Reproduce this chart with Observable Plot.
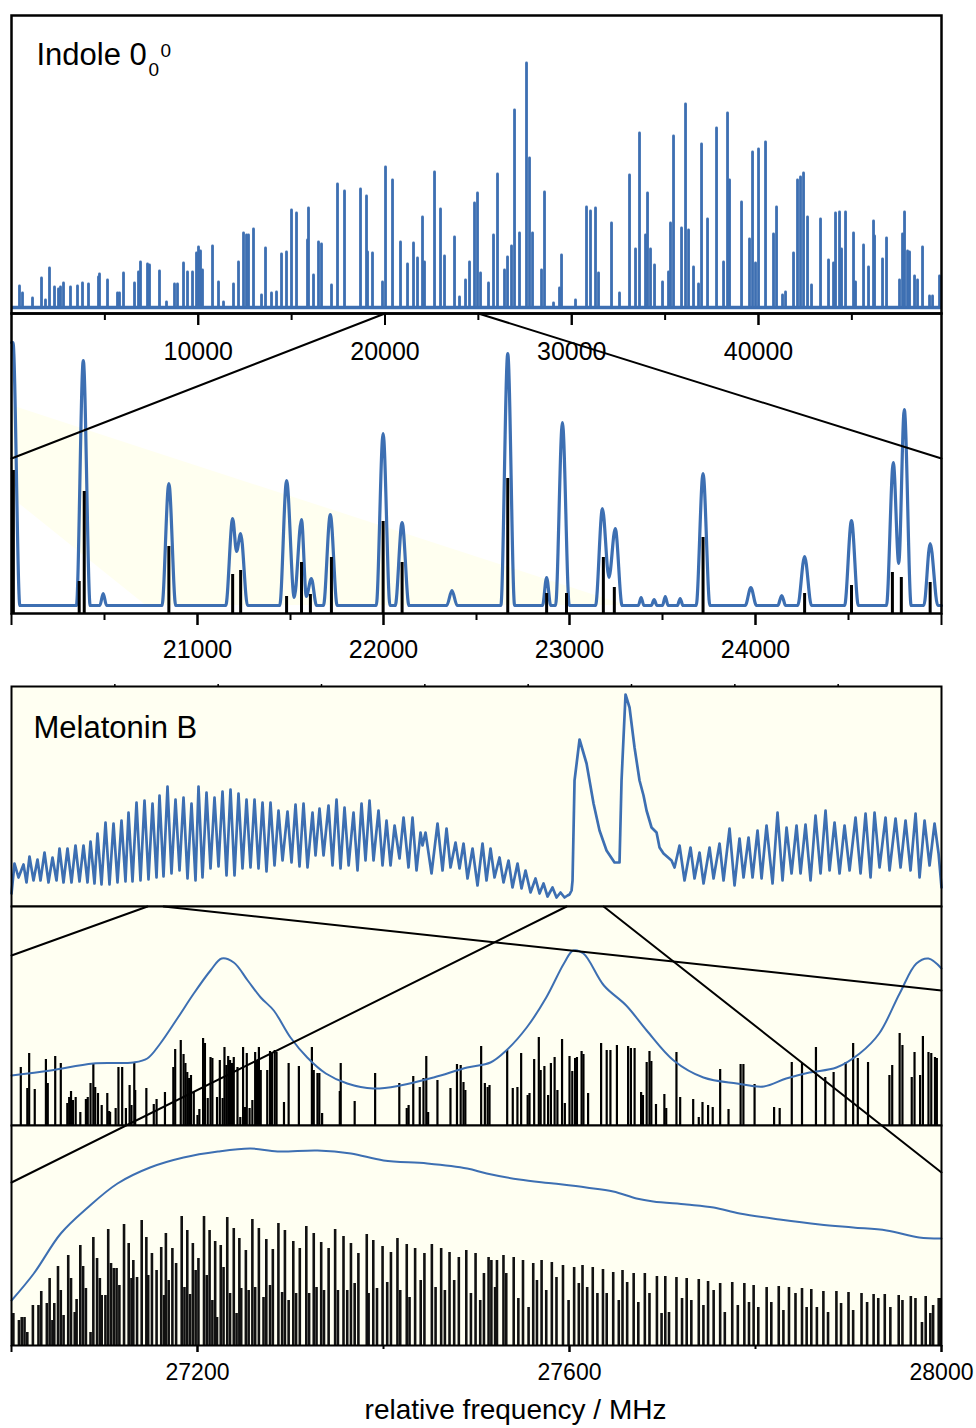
<!DOCTYPE html>
<html><head><meta charset="utf-8">
<script src="https://cdn.jsdelivr.net/npm/d3@7"></script>
<script src="https://cdn.jsdelivr.net/npm/@observablehq/plot@0.6"></script>
<style>
body{margin:0;background:#fff;}
#chart{position:relative;width:976px;height:1428px;}
#chart svg{position:absolute;left:0;}
</style></head><body><div id="chart"></div>
<script>
// ---------------- DATA ----------------
// Panel 1: Indole 0_0^0 overview (MHz, intensity)
const indoleBaseline = 6;
const indolePeaks = [[428,27],[589,20],[1125,15],[1607,35],[1820,13],[2035,45],[2303,26],[2517,24],[2624,26],[2785,30],[3159,26],[3534,27],[3802,30],[4123,29],[4659,36],[4712,39],[5141,33],[5676,20],[5783,20],[5998,40],[6587,30],[6801,41],[6908,51],[7283,49],[7390,48],[7925,42],[8300,11],[8729,29],[8889,29],[9211,50],[9425,41],[9693,41],[9907,60],[10014,66],[10121,62],[10228,43],[10764,67],[11085,31],[11353,11],[11888,29],[12156,51],[12424,80],[12584,78],[12691,78],[12959,84],[13388,18],[13602,65],[13923,20],[14191,21],[14459,59],[14726,61],[14994,103],[15262,100],[15851,73],[15904,105],[16172,38],[16440,71],[16600,69],[17136,28],[17457,129],[17832,122],[18689,124],[19010,117],[19064,61],[19331,60],[19867,31],[20028,146],[20403,133],[20831,71],[21206,49],[21527,70],[21741,55],[22009,96],[22116,51],[22652,141],[22973,104],[23187,57],[23723,76],[23990,16],[24312,33],[24526,51],[24794,110],[24954,120],[25115,40],[25543,30],[25811,78],[26025,139],[26400,43],[26561,56],[26775,67],[26936,203],[27203,80],[27578,250],[27739,155],[27900,80],[28382,43],[28542,121],[29024,10],[29345,25],[29453,58],[30202,13],[30791,106],[31005,102],[31273,105],[31434,40],[32130,90],[32558,20],[33094,138],[33415,64],[33629,180],[33951,78],[34058,120],[34218,64],[34433,48],[34861,31],[35182,41],[35289,90],[35450,177],[35879,85],[36093,209],[36254,83],[36521,46],[36789,29],[36950,169],[37271,94],[37753,185],[38128,51],[38342,200],[38449,133],[39092,111],[39520,74],[39681,161],[39841,50],[40002,164],[40377,171],[40805,79],[40966,106],[41287,18],[41448,21],[41876,60],[42090,133],[42251,136],[42412,140],[42626,96],[42840,28],[43322,94],[43750,53],[44018,50],[44125,100],[44339,101],[44447,64],[44661,101],[45089,80],[45196,31],[45625,68],[45892,46],[46160,92],[46214,77],[46642,54],[46856,75],[47552,33],[47713,79],[47820,101],[47981,62],[48088,61],[48356,37],[48516,33],[48784,66],[49159,17],[49320,17],[49694,37]];

// Panel 2: Indole zoom 20000-25000 MHz
const indoleZoomTrace = [[20000,271],[20008,271],[20045,8],[20349,8],[20386,253],[20423,8],[20475,8],[20493,20],[20511,8],[20809,8],[20846,130],[20883,8],[21152,8],[21189,95],[21210,62],[21232,80],[21269,8],[21442,8],[21479,133],[21520,16],[21559,94],[21585,17],[21612,35],[21640,8],[21677,8],[21714,99],[21751,8],[21961,8],[21998,180],[22035,8],[22063,8],[22100,91],[22137,8],[22340,8],[22368,23],[22396,8],[22631,8],[22668,260],[22705,8],[22855,8],[22877,36],[22899,8],[22925,8],[22962,191],[22999,8],[23140,8],[23177,105],[23212,36],[23246,85],[23283,8],[23370,8],[23385,16],[23400,8],[23440,8],[23455,14],[23470,8],[23500,8],[23515,17],[23530,8],[23580,8],[23595,15],[23610,8],[23681,8],[23718,140],[23755,8],[23945,8],[23975,26],[24005,8],[24120,8],[24141,18],[24162,8],[24227,8],[24264,57],[24301,8],[24479,8],[24516,93],[24553,8],[24704,8],[24741,151],[24770,50],[24800,204],[24837,8],[24905,8],[24939,70],[24980,8],[25000,8]];
const indoleZoomSticks = [[20010,143],[20364,32],[20391,122],[20846,67],[21189,39],[21232,43],[21479,17],[21559,51],[21607,19],[21720,56],[21998,92],[22100,51],[22668,135],[22877,20],[22984,20],[23182,56],[23241,26],[23718,76],[24264,20],[24516,28],[24736,41],[24784,36],[24939,31]];
const indoleBandX = [20000, 20723, 23305];
const indoleBandLow = [116, 8, 8];
const indoleBandHigh = [208, 164, 8];
const indoleZoomRange = [20000, 25000];
const indoleZoomEdgeHeights = [155, 155];

// Panel 3: Melatonin B overview
const melatoninTrace = [[0,13],[145,43],[339,29],[581,42],[726,24],[871,50],[1065,26],[1258,47],[1403,26],[1597,54],[1790,24],[1984,49],[2178,26],[2323,58],[2516,24],[2710,58],[2903,24],[3097,61],[3291,25],[3484,61],[3678,24],[3823,65],[4016,23],[4162,73],[4355,22],[4549,84],[4742,22],[4936,83],[5129,24],[5323,86],[5516,25],[5662,94],[5855,25],[6049,104],[6242,26],[6436,106],[6629,27],[6823,103],[7017,29],[7162,111],[7355,30],[7549,120],[7742,33],[7936,107],[8130,36],[8323,109],[8517,28],[8710,103],[8904,26],[9049,120],[9242,29],[9436,114],[9630,38],[9823,109],[10017,40],[10210,115],[10404,31],[10597,117],[10791,31],[10984,113],[11178,38],[11372,107],[11565,39],[11759,107],[11952,38],[12146,104],[12339,35],[12533,104],[12727,41],[12920,96],[13114,46],[13356,95],[13549,44],[13743,102],[13936,40],[14130,103],[14323,39],[14565,94],[14711,51],[14904,98],[15098,51],[15340,101],[15533,41],[15727,107],[15920,38],[16114,99],[16313,41],[16549,94],[16743,36],[16937,103],[17130,46],[17324,106],[17517,46],[17759,96],[17953,41],[18146,86],[18340,41],[18537,81],[18775,48],[18969,89],[19211,39],[19404,89],[19598,36],[19792,74],[19888,61],[20033,74],[20324,33],[20614,83],[20856,36],[21050,78],[21243,39],[21485,64],[21679,38],[21872,63],[22066,28],[22308,58],[22549,21],[22791,63],[22985,26],[23179,58],[23372,29],[23614,49],[23808,24],[24050,46],[24243,19],[24485,43],[24679,18],[24872,36],[25114,14],[25356,28],[25550,13],[25743,23],[25937,10],[26179,19],[26373,9],[26566,14],[26760,9],[26905,11],[27001,12],[27100,16],[27147,26],[27244,126],[27486,167],[27825,143],[28163,103],[28453,76],[28792,56],[29179,44],[29421,44],[29518,126],[29711,212],[29905,199],[30147,159],[30389,126],[30582,111],[30728,96],[30970,79],[31212,74],[31357,59],[31550,53],[31937,46],[32083,39],[32325,61],[32566,26],[32856,59],[33050,28],[33292,54],[33486,23],[33776,59],[33970,28],[34260,63],[34454,26],[34744,78],[34986,21],[35228,68],[35421,29],[35663,69],[35857,29],[36099,76],[36293,28],[36534,81],[36825,23],[37066,94],[37308,26],[37502,79],[37744,33],[37986,81],[38179,33],[38421,82],[38663,26],[38905,91],[39147,33],[39389,96],[39583,36],[39825,84],[40067,33],[40309,81],[40551,36],[40841,89],[41083,33],[41325,93],[41567,29],[41760,94],[42002,39],[42293,89],[42486,36],[42777,88],[43019,39],[43260,86],[43502,36],[43745,93],[43938,29],[44180,86],[44422,41],[44664,83],[44858,53],[45000,19]];

// Panel 4: Melatonin zoom 8400-9400 MHz
const melatoninZoom1Curve = [[8400,50],[8442,55],[8488,62],[8531,63],[8546,67],[8560,82],[8579,108],[8596,132],[8614,155],[8626,167],[8639,163],[8654,145],[8668,128],[8682,115],[8700,88],[8718,68],[8738,52],[8761,42],[8789,37],[8818,40],[8854,48],[8890,58],[8915,63],[8932,75],[8954,98],[8975,128],[8994,162],[9004,175],[9015,172],[9037,140],[9061,120],[9083,95],[9112,65],[9144,48],[9180,42],[9209,39],[9233,47],[9258,53],[9287,58],[9312,72],[9333,92],[9355,132],[9373,162],[9386,167],[9400,157]];
const melatoninZoom1Sticks = [[8410,58],[8417,37],[8419,72],[8425,36],[8437,66],[8439,42],[8447,69],[8453,62],[8460,22],[8462,28],[8464,34],[8466,25],[8469,28],[8474,13],[8480,26],[8482,28],[8485,42],[8488,62],[8490,38],[8493,32],[8497,20],[8503,32],[8505,14],[8506,13],[8512,17],[8515,58],[8519,58],[8523,17],[8527,40],[8529,20],[8532,63],[8533,35],[8545,37],[8553,21],[8556,26],[8565,33],[8574,58],[8576,76],[8582,85],[8585,71],[8587,62],[8589,53],[8591,47],[8593,50],[8596,33],[8600,10],[8602,16],[8606,87],[8608,82],[8611,27],[8614,68],[8616,67],[8621,28],[8624,65],[8627,27],[8629,78],[8631,60],[8633,69],[8635,65],[8637,62],[8639,68],[8643,58],[8646,8],[8649,78],[8651,18],[8653,72],[8656,17],[8659,25],[8662,73],[8664,65],[8666,78],[8668,55],[8675,55],[8678,74],[8680,72],[8683,75],[8685,73],[8693,23],[8698,62],[8709,59],[8723,78],[8725,55],[8729,52],[8731,52],[8734,12],[8753,34],[8754,62],[8769,24],[8791,52],[8817,42],[8825,17],[8827,20],[8832,49],[8839,38],[8843,47],[8846,69],[8848,13],[8858,45],[8872,37],[8879,61],[8883,60],[8886,43],[8888,35],[8905,79],[8909,42],[8912,38],[8914,40],[8933,75],[8939,37],[8944,38],[8948,72],[8955,30],[8957,32],[8962,66],[8967,88],[8969,55],[8973,59],[8977,30],[8980,62],[8984,68],[8987,35],[8992,86],[8995,22],[9000,69],[9003,54],[9006,67],[9008,68],[9013,74],[9015,71],[9020,32],[9034,82],[9040,75],[9044,75],[9051,80],[9063,79],[9066,77],[9070,77],[9077,33],[9079,30],[9083,63],[9086,74],[9088,64],[9093,21],[9102,31],[9104,17],[9115,73],[9119,28],[9133,26],[9139,8],[9143,23],[9149,20],[9154,18],[9162,56],[9171,16],[9184,61],[9187,61],[9199,41],[9220,18],[9226,17],[9239,63],[9250,62],[9265,78],[9275,48],[9284,53],[9297,63],[9305,82],[9310,67],[9321,63],[9344,50],[9347,60],[9355,92],[9358,80],[9368,48],[9371,73],[9377,50],[9380,89],[9386,73],[9389,72],[9393,68],[9395,67]];
const melatoninZoom1Range = [6580, 7360];      // as marked on the overview axis
const melatoninZoom1EdgeHeights = [170, 135];

// Panel 5: Melatonin zoom 27000-28000 MHz
const melatoninZoom2Curve = [[27000,45],[27024,72],[27053,112],[27082,138],[27114,162],[27149,178],[27185,188],[27222,194],[27257,197],[27286,194],[27329,195],[27365,192],[27400,185],[27447,182],[27490,177],[27511,172],[27546,166],[27583,162],[27618,158],[27647,154],[27672,147],[27690,144],[27726,141],[27755,138],[27783,132],[27826,126],[27869,121],[27905,118],[27941,115],[27976,108],[28000,107]];
const melatoninZoom2Sticks = [[27002,32],[27008,25],[27011,28],[27014,28],[27017,13],[27023,40],[27029,40],[27032,54],[27038,42],[27041,67],[27044,25],[27046,42],[27050,79],[27053,55],[27056,30],[27061,90],[27064,67],[27068,33],[27070,46],[27074,100],[27077,79],[27080,57],[27085,13],[27088,108],[27092,87],[27095,67],[27097,50],[27101,50],[27104,116],[27107,82],[27110,77],[27113,77],[27116,60],[27121,121],[27126,102],[27129,67],[27131,85],[27135,68],[27140,125],[27145,108],[27147,70],[27151,92],[27156,75],[27161,98],[27164,50],[27166,112],[27169,65],[27173,97],[27177,82],[27183,129],[27186,58],[27189,115],[27192,51],[27195,102],[27198,75],[27201,87],[27207,129],[27210,70],[27213,115],[27216,45],[27219,104],[27221,28],[27225,100],[27228,78],[27232,128],[27235,52],[27239,117],[27242,32],[27245,107],[27247,57],[27252,95],[27255,55],[27259,126],[27262,58],[27266,117],[27271,48],[27274,106],[27278,60],[27281,96],[27287,122],[27291,53],[27294,115],[27298,45],[27303,104],[27306,52],[27310,97],[27317,119],[27320,52],[27325,112],[27328,58],[27333,103],[27336,55],[27341,97],[27348,116],[27351,55],[27357,109],[27361,55],[27365,102],[27369,62],[27373,92],[27382,111],[27384,52],[27389,105],[27393,57],[27399,99],[27404,63],[27408,93],[27415,107],[27418,55],[27425,101],[27428,48],[27434,97],[27440,65],[27444,92],[27452,101],[27456,58],[27462,97],[27466,55],[27471,93],[27476,65],[27481,88],[27489,95],[27494,52],[27499,92],[27504,45],[27508,72],[27513,88],[27516,85],[27520,58],[27522,85],[27529,90],[27532,72],[27540,88],[27545,47],[27550,85],[27556,38],[27561,82],[27565,65],[27570,85],[27575,55],[27581,83],[27586,68],[27593,80],[27599,45],[27605,78],[27610,62],[27614,80],[27619,58],[27625,78],[27630,52],[27636,76],[27640,52],[27647,73],[27653,45],[27657,75],[27662,63],[27669,72],[27674,43],[27681,72],[27686,52],[27694,69],[27699,32],[27703,69],[27707,33],[27715,68],[27721,47],[27726,67],[27731,45],[27739,66],[27744,40],[27749,64],[27755,55],[27762,62],[27767,33],[27775,63],[27781,40],[27788,62],[27793,43],[27798,60],[27803,38],[27812,58],[27817,43],[27825,59],[27830,35],[27836,58],[27843,52],[27850,57],[27855,38],[27860,56],[27866,38],[27873,54],[27878,33],[27887,54],[27892,42],[27900,53],[27905,35],[27914,52],[27920,43],[27927,51],[27932,47],[27939,51],[27945,38],[27954,50],[27958,45],[27967,49],[27972,47],[27979,23],[27983,49],[27988,32],[27991,40],[27997,47],[27999,47]];
const melatoninZoom2Range = [26860, 28650];    // as marked on the overview axis
const melatoninZoom2EdgeHeights = [163, 173];

// Axis ticks
const ticks1 = {major: [10000, 20000, 30000, 40000], labels: [10000, 20000, 30000, 40000], minor: [5000, 15000, 25000, 35000, 45000]};
const ticks2 = {major: [20000, 21000, 22000, 23000, 24000, 25000], labels: [21000, 22000, 23000, 24000], minor: [20500, 21500, 22500, 23500, 24500]};
const ticks3 = {major: [10000, 20000, 30000, 40000], labels: [10000, 20000, 30000, 40000], minor: [5000, 15000, 25000, 35000], top: [5000, 10000, 15000, 20000, 25000, 30000, 35000, 40000]};
const ticks4 = {major: [8600, 8800, 9000, 9200], labels: [8600, 8800, 9000, 9200], minor: [8500, 8700, 8900, 9100, 9300]};
const ticks5 = {major: [27000, 27200, 27600, 28000], labels: [27200, 27600, 28000], minor: [27400, 27800]};

// ---------------- LAYOUT / STYLE ----------------
const BLUE = "#3d6fb2", BG = "#fffff2", BAND = "#fffff0";
const W = 976, ML = 11, MR = 35;
const FONT = "Liberation Sans, Arial, Helvetica, sans-serif";
const P1 = {top: 0, mt: 15, h: 298, mb: 52, domain: [0, 49800], y: [0, 298]};
const P2 = {top: 313, mt: 0, h: 300, mb: 60, domain: [20000, 25000], y: [0, 300]};
const P3 = {top: 676, mt: 10, h: 220, mb: 50, domain: [0, 45000], y: [0, 220]};
const P4 = {top: 906, mt: 0, h: 219, mb: 50, domain: [8400, 9400], y: [0, 219]};
const P5 = {top: 1125, mt: 0, h: 220, mb: 103, domain: [27000, 28000], y: [0, 220]};

const xs = p => d3.scaleLinear(p.domain, [ML, W - MR]);
const valAt = (p, py) => p.y[0] + (1 - (py - p.top - p.mt) / p.h) * (p.y[1] - p.y[0]);
const fmt = d3.format("d");

function connectors(src, dst, range, edge) {
  const sx = xs(src), dx = xs(dst);
  const sy = valAt(dst, src.top + src.mt + src.h);
  return [
    {k: 0, x: dx.invert(sx(range[0])), y: sy}, {k: 0, x: dst.domain[0], y: edge[0]},
    {k: 1, x: dx.invert(sx(range[1])), y: sy}, {k: 1, x: dst.domain[1], y: edge[1]}
  ];
}

function axes(t, o) {
  const marks = [
    Plot.axisX({ticks: t.minor, tickSize: o.minor, tickFormat: () => "", label: null, strokeWidth: 2}),
    Plot.axisX({ticks: t.major, tickSize: o.major, tickFormat: () => "", label: null, strokeWidth: 2}),
    Plot.axisX({ticks: t.labels, tickSize: o.major, tickPadding: o.pad, tickFormat: fmt, label: null, strokeWidth: 2, fontSize: o.font})
  ];
  if (t.top) marks.push(Plot.axisX({anchor: "top", ticks: t.top, tickSize: 3, tickFormat: () => "", label: null, strokeWidth: 1.5}));
  return marks;
}

const chart = document.getElementById("chart");
function makePlot(p, marks) {
  const svg = Plot.plot({
    width: W, height: p.mt + p.h + p.mb,
    marginLeft: ML, marginRight: MR, marginTop: p.mt, marginBottom: p.mb,
    x: {domain: p.domain, label: null},
    y: {domain: p.y, axis: null, label: null},
    style: {background: "transparent", overflow: "visible", fontFamily: FONT, color: "black"},
    marks
  });
  svg.style.top = p.top + "px";
  chart.appendChild(svg);
}

const X = d => d[0], Y = d => d[1];

// Panel 1
makePlot(P1, [
  Plot.ruleY([indoleBaseline], {stroke: BLUE, strokeWidth: 3.5}),
  Plot.ruleX(indolePeaks, {x: X, y1: () => indoleBaseline, y2: Y, stroke: BLUE, strokeWidth: 2.8, strokeLinecap: "round"}),
  Plot.frame({stroke: "black", strokeWidth: 2.5}),
  ...axes(ticks1, {minor: 7, major: 12, pad: 17, font: 25}),
  Plot.text(["Indole 0"], {frameAnchor: "top-left", textAnchor: "start", lineAnchor: "top", dx: 25, dy: 27, fontSize: 31, fill: "black"}),
  Plot.text(["0"], {frameAnchor: "top-left", textAnchor: "start", lineAnchor: "top", dx: 137, dy: 47, fontSize: 19, fill: "black"}),
  Plot.text(["0"], {frameAnchor: "top-left", textAnchor: "start", lineAnchor: "top", dx: 149, dy: 28, fontSize: 19, fill: "black"})
]);

// Panel 2
makePlot(P2, [
  Plot.areaY(indoleBandX.map((x, i) => ({x, y1: indoleBandLow[i], y2: indoleBandHigh[i]})), {x: "x", y1: "y1", y2: "y2", fill: BAND}),
  Plot.line(indoleZoomTrace, {x: X, y: Y, stroke: BLUE, strokeWidth: 3.2, curve: "monotone-x"}),
  Plot.ruleX(indoleZoomSticks, {x: X, y1: () => 0, y2: Y, stroke: "black", strokeWidth: 3}),
  Plot.line(connectors(P1, P2, indoleZoomRange, indoleZoomEdgeHeights), {x: "x", y: "y", z: "k", stroke: "black", strokeWidth: 2}),
  Plot.frame({stroke: "black", strokeWidth: 2.5}),
  ...axes(ticks2, {minor: 7, major: 12, pad: 15, font: 25})
]);

// Panel 3
makePlot(P3, [
  Plot.frame({fill: BG}),
  Plot.line(melatoninTrace, {x: X, y: Y, stroke: BLUE, strokeWidth: 2.7}),
  Plot.frame({stroke: "black", strokeWidth: 2}),
  ...axes(ticks3, {minor: 3, major: 6, pad: 11, font: 23}),
  Plot.text(["Melatonin B"], {frameAnchor: "top-left", textAnchor: "start", lineAnchor: "top", dx: 22, dy: 29, fontSize: 31, fill: "black"})
]);

// Panel 4
makePlot(P4, [
  Plot.frame({fill: BG}),
  Plot.ruleX(melatoninZoom1Sticks, {x: X, y1: () => 0, y2: Y, stroke: "black", strokeWidth: 2.2}),
  Plot.line(melatoninZoom1Curve, {x: X, y: Y, stroke: BLUE, strokeWidth: 2, curve: "catmull-rom"}),
  Plot.line(connectors(P3, P4, melatoninZoom1Range, melatoninZoom1EdgeHeights), {x: "x", y: "y", z: "k", stroke: "black", strokeWidth: 2}),
  Plot.frame({stroke: "black", strokeWidth: 2}),
  ...axes(ticks4, {minor: 3, major: 7, pad: 11, font: 23})
]);

// Panel 5
makePlot(P5, [
  Plot.frame({fill: BG}),
  Plot.ruleX(melatoninZoom2Sticks, {x: X, y1: () => 0, y2: Y, stroke: "#111", strokeWidth: 2.6}),
  Plot.line(melatoninZoom2Curve, {x: X, y: Y, stroke: BLUE, strokeWidth: 2, curve: "catmull-rom"}),
  Plot.line(connectors(P3, P5, melatoninZoom2Range, melatoninZoom2EdgeHeights), {x: "x", y: "y", z: "k", stroke: "black", strokeWidth: 2}),
  Plot.frame({stroke: "black", strokeWidth: 2}),
  ...axes(ticks5, {minor: 4, major: 7, pad: 11, font: 23}),
  Plot.text(["relative frequency / MHz"], {frameAnchor: "bottom", dx: 39, dy: 73, fontSize: 28, fill: "black"})
]);
</script></body></html>
